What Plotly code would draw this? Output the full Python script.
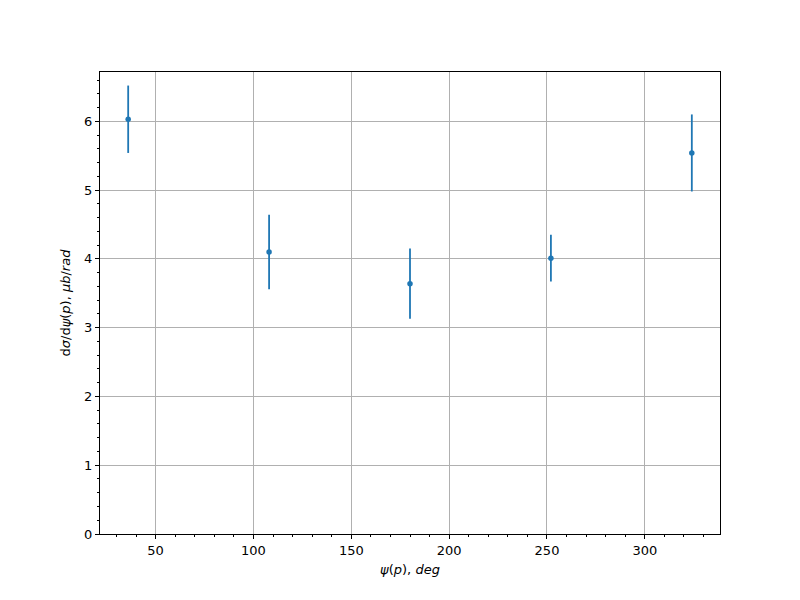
import plotly.graph_objects as go

psi_deg = [36, 108, 180, 252, 324]
dsigma = [6.03, 4.10, 3.64, 4.01, 5.54]
dsigma_err = [0.49, 0.54, 0.51, 0.34, 0.56]

blue = "#1f77b4"
font_family = "DejaVu Sans"

fig = go.Figure()
fig.add_trace(go.Scatter(
    x=psi_deg, y=dsigma,
    mode="markers",
    marker=dict(color=blue, size=5.5),
    error_y=dict(type="data", array=dsigma_err, visible=True,
                 color=blue, thickness=1.8, width=0),
    showlegend=False,
))

axis_common = dict(
    showline=True, linecolor="black", linewidth=1, mirror=True,
    ticks="outside", ticklen=4, tickwidth=1, tickcolor="black",
    showgrid=True, gridcolor="#b0b0b0", gridwidth=0.8,
    zeroline=False,
    tickfont=dict(family=font_family, size=13, color="black"),
)

fig.update_xaxes(
    range=[21.6, 338.4], dtick=50, tick0=0,
    minor=dict(dtick=10, tick0=0, ticks="outside", ticklen=2, tickcolor="black", showgrid=False),
    title=dict(text="<i>ψ</i>(<i>p</i>), <i>deg</i>",
               font=dict(family=font_family, size=13, color="black"), standoff=8),
    **axis_common,
)
fig.update_yaxes(
    range=[0, 6.717], dtick=1, tick0=0,
    minor=dict(dtick=0.2, tick0=0, ticks="outside", ticklen=2, tickcolor="black", showgrid=False),
    title=dict(text="d<i>σ</i>/d<i>ψ</i>(<i>p</i>), <i>μb</i>/<i>rad</i>",
               font=dict(family=font_family, size=13, color="black"), standoff=10),
    **axis_common,
)

fig.update_layout(
    width=800, height=600,
    margin=dict(l=92, r=88, t=64, b=74),
    paper_bgcolor="white", plot_bgcolor="white",
    font=dict(family=font_family, size=13, color="black"),
)

fig.write_html("out.html")
